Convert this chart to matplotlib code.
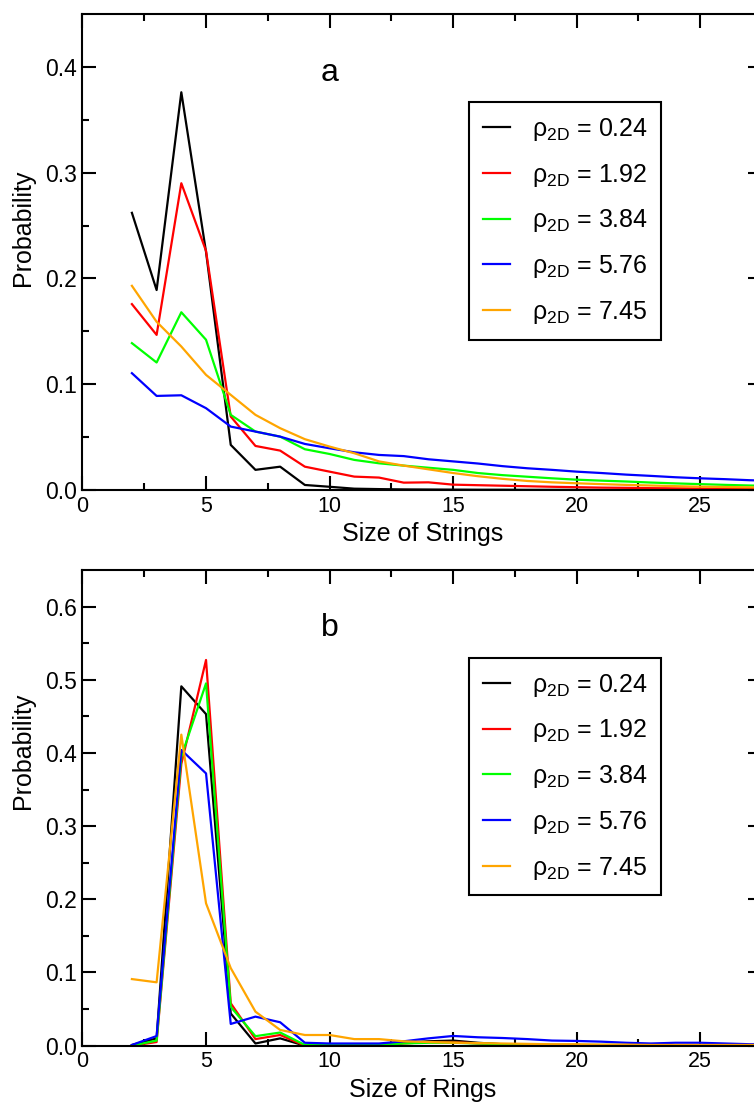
import matplotlib
matplotlib.use('Agg')
import matplotlib.pyplot as plt
import numpy as np

plt.rcParams['font.family'] = ['Liberation Sans', 'DejaVu Sans']
plt.rcParams['mathtext.fontset'] = 'custom'
plt.rcParams['mathtext.rm'] = 'Liberation Sans'
plt.rcParams['mathtext.it'] = 'Liberation Sans'

# cluster sizes 2..28
sizes = np.arange(2, 29)
densities = ['0.24', '1.92', '3.84', '5.76', '7.45']
colors = ['black', 'red', '#00ff00', 'blue', 'orange']

# panel a: strings
strings_024 = [0.262, 0.189, 0.376, 0.225, 0.0426, 0.019, 0.022, 0.0047, 0.003, 0.0012,
               0.0008, 0.0005, 0.0004, 0.0003, 0.0002, 0.0002, 0.0001, 0.0001, 0.0001,
               0.0, 0.0, 0.0, 0.0, 0.0, 0.0, 0.0, 0.0]
strings_192 = [0.1757, 0.1466, 0.290, 0.226, 0.0694, 0.0416, 0.0372, 0.022, 0.0173, 0.0126,
               0.0117, 0.0069, 0.0072, 0.005, 0.0045, 0.004, 0.0035, 0.003, 0.0026, 0.0022,
               0.002, 0.0017, 0.0015, 0.0013, 0.0011, 0.001, 0.0009]
strings_384 = [0.1388, 0.1205, 0.168, 0.142, 0.071, 0.0552, 0.0504, 0.0385, 0.034, 0.0284,
               0.0252, 0.023, 0.021, 0.019, 0.016, 0.014, 0.0125, 0.011, 0.0097, 0.0088,
               0.008, 0.007, 0.0062, 0.0055, 0.0048, 0.0042, 0.0038]
strings_576 = [0.1104, 0.0889, 0.0895, 0.0773, 0.0599, 0.0552, 0.0504, 0.0435, 0.0394, 0.0356,
               0.0331, 0.032, 0.029, 0.027, 0.025, 0.0225, 0.0205, 0.019, 0.0173, 0.016,
               0.0145, 0.0133, 0.012, 0.011, 0.0102, 0.0092, 0.0085]
strings_745 = [0.193, 0.159, 0.1356, 0.1088, 0.0899, 0.071, 0.0584, 0.048, 0.041, 0.0347,
               0.027, 0.023, 0.0195, 0.016, 0.013, 0.0105, 0.0085, 0.0072, 0.0063, 0.0055,
               0.0048, 0.0042, 0.0036, 0.0031, 0.0028, 0.0025, 0.0022]

# panel b: rings
rings_024 = [0.001, 0.010, 0.491, 0.453, 0.044, 0.003, 0.010, 0.0, 0.0, 0.0,
             0.0, 0.004, 0.006, 0.007, 0.004, 0.002, 0.001, 0.001, 0.001, 0.0,
             0.0, 0.0, 0.0, 0.0, 0.0, 0.0, 0.0]
rings_192 = [0.0, 0.005, 0.385, 0.527, 0.058, 0.009, 0.0146, 0.0, 0.0, 0.0,
             0.0, 0.003, 0.005, 0.005, 0.003, 0.002, 0.001, 0.001, 0.001, 0.0,
             0.0, 0.0, 0.0, 0.0, 0.0, 0.0, 0.0]
rings_384 = [0.0, 0.007, 0.395, 0.495, 0.053, 0.013, 0.018, 0.001, 0.001, 0.001,
             0.001, 0.003, 0.004, 0.004, 0.003, 0.002, 0.002, 0.001, 0.001, 0.001,
             0.001, 0.0, 0.0, 0.0, 0.0, 0.0, 0.0]
rings_576 = [0.001, 0.0132, 0.404, 0.372, 0.0297, 0.0397, 0.032, 0.004, 0.003, 0.003,
             0.003, 0.006, 0.010, 0.0133, 0.0115, 0.0105, 0.009, 0.007, 0.0065, 0.0055,
             0.004, 0.003, 0.004, 0.004, 0.003, 0.002, 0.002]
rings_745 = [0.091, 0.0866, 0.425, 0.1945, 0.106, 0.0465, 0.0215, 0.0146, 0.0146, 0.009,
             0.009, 0.006, 0.005, 0.004, 0.0035, 0.003, 0.0025, 0.002, 0.002, 0.0015,
             0.0015, 0.001, 0.001, 0.001, 0.001, 0.001, 0.001]

strings = [strings_024, strings_192, strings_384, strings_576, strings_745]
rings = [rings_024, rings_192, rings_384, rings_576, rings_745]


def draw_panel(ax, series, ymax, xlabel, letter, letter_y, ylabel_y):
    for vals, dens, col in zip(series, densities, colors):
        ax.plot(sizes, vals, color=col, lw=1.6,
                label='ρ$_{\\mathrm{2D}}$ = ' + dens)
    ax.set_xlim(0, 27.5)
    ax.set_ylim(0, ymax)
    ax.set_xticks(np.arange(0, 30, 5))
    ax.set_xticks(np.arange(2.5, 27.5, 5), minor=True)
    ax.set_yticks(np.arange(0, ymax, 0.1))
    ax.set_yticks(np.arange(0.05, ymax, 0.1), minor=True)
    ax.yaxis.set_major_formatter(matplotlib.ticker.FormatStrFormatter('%.1f'))
    ax.tick_params(which='both', direction='in', top=True, right=True, width=1.5)
    ax.tick_params(which='major', length=10, pad=4)
    ax.tick_params(which='minor', length=5)
    ax.tick_params(axis='x', labelsize=15.5)
    ax.tick_params(axis='y', labelsize=16.5)
    for sp in ax.spines.values():
        sp.set_linewidth(1.5)
    ax.set_xlabel(xlabel, fontsize=18, labelpad=4)
    ax.set_ylabel('Probability', fontsize=18)
    ax.yaxis.set_label_coords(-0.07, ylabel_y)
    ax.text(10, letter_y, letter, fontsize=23, ha='center', va='center')
    leg = ax.legend(loc='upper left', bbox_to_anchor=(0.569, 0.815), fontsize=18,
                    frameon=True, fancybox=False, framealpha=1, edgecolor='black',
                    handlelength=1.1, handletextpad=0.85, labelspacing=0.75,
                    borderpad=0.55, borderaxespad=0)
    leg.get_frame().set_linewidth(1.5)


fig = plt.figure(figsize=(7.54, 11.02), dpi=100)
ax1 = fig.add_axes([0.1094, 0.5554, 0.9012, 0.4319])
ax2 = fig.add_axes([0.1094, 0.0511, 0.9012, 0.4317])

draw_panel(ax1, strings, 0.45, 'Size of Strings', 'a', 0.394, 0.55)
draw_panel(ax2, rings, 0.65, 'Size of Rings', 'b', 0.571, 0.62)

fig.savefig('out.png', dpi=100)
